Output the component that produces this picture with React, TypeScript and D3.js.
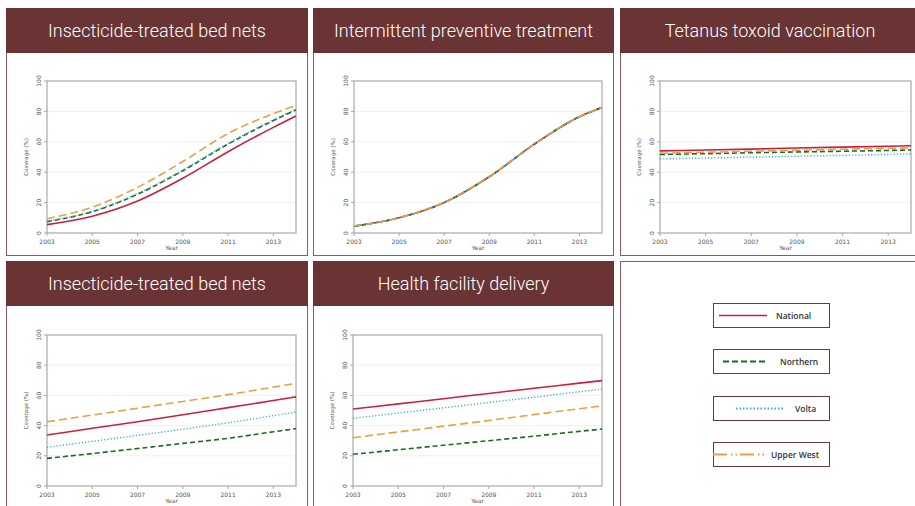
import React from "react";
import * as d3 from "d3";

const years = [2003, 2005, 2007, 2009, 2011, 2013, 2014];
const yTicks = [0, 20, 40, 60, 80, 100];
const xTicks = [2003, 2005, 2007, 2009, 2011, 2013];

const seriesNames = ["National", "Northern", "Volta", "Upper West"];

// Panel 1: Insecticide-treated bed nets (top)
const itnTopNational = [5.5, 11, 21, 36, 53.5, 69.5, 77];
const itnTopNorthern = [7.5, 14, 25.5, 41, 58.5, 74, 81];
const itnTopVolta = [7.8, 14.3, 26, 41.5, 59, 74.5, 81.5];
const itnTopUpperWest = [9.4, 17, 30, 47, 65.5, 78.5, 84];

// Panel 2: Intermittent preventive treatment
const iptNational = [4.5, 10, 20, 37, 58.5, 76.5, 82.5];
const iptNorthern = [4.5, 10, 20, 37, 58.5, 76.5, 82.5];
const iptVolta = [4.5, 10, 20, 37, 58.5, 76.5, 82.5];
const iptUpperWest = [4.6, 10.1, 20.1, 37.1, 58.6, 76.6, 82.6];

// Panel 3: Tetanus toxoid vaccination
const ttNational = [54, 54.6, 55.2, 55.9, 56.5, 57.1, 57.4];
const ttNorthern = [51.7, 52.2, 52.8, 53.3, 53.8, 54.3, 54.6];
const ttVolta = [48.7, 49.3, 49.9, 50.5, 51.1, 51.7, 52];
const ttUpperWest = [52.5, 53.1, 53.8, 54.4, 55.1, 55.7, 56];

// Panel 4: Insecticide-treated bed nets (bottom)
const itnBotNational = [33.8, 38.2, 42.6, 47.2, 51.9, 56.6, 59];
const itnBotNorthern = [18.3, 21.5, 24.8, 28.2, 31.6, 35.9, 38];
const itnBotVolta = [25.6, 29.6, 33.5, 37.6, 41.9, 46.6, 49];
const itnBotUpperWest = [42.5, 47, 51.5, 56, 60.5, 65.5, 68];

// Panel 5: Health facility delivery
const hfdNational = [51, 54.4, 57.8, 61.3, 64.7, 68.1, 69.8];
const hfdNorthern = [21, 24, 27, 30, 33, 36.2, 37.7];
const hfdVolta = [44.8, 48.3, 51.8, 55.3, 58.8, 62.4, 64.2];
const hfdUpperWest = [32, 35.8, 39.6, 43.4, 47.3, 51.2, 53];

const panelTitles = [
  "Insecticide-treated bed nets",
  "Intermittent preventive treatment",
  "Tetanus toxoid vaccination",
  "Insecticide-treated bed nets",
  "Health facility delivery",
];

const panelData = [
  [itnTopNational, itnTopNorthern, itnTopVolta, itnTopUpperWest],
  [iptNational, iptNorthern, iptVolta, iptUpperWest],
  [ttNational, ttNorthern, ttVolta, ttUpperWest],
  [itnBotNational, itnBotNorthern, itnBotVolta, itnBotUpperWest],
  [hfdNational, hfdNorthern, hfdVolta, hfdUpperWest],
];

const styles = [
  { color: "#c8203f", dash: "none", width: 1.6 },
  { color: "#1d6b22", dash: "5,3", width: 1.6 },
  { color: "#3aa9d6", dash: "1.2,2", width: 1.4 },
  { color: "#e9a043", dash: "8,4", width: 1.6 },
];

const HEADER = "#6a3434";
const BORDER = "#8c5a5a";

type Panel = { x: number; y: number; w: number; h: number; px0: number; px1: number; py0: number; py1: number };

const panels: Panel[] = [
  { x: 6, y: 8, w: 302, h: 248, px0: 47, px1: 296, py0: 233, py1: 81 },
  { x: 313, y: 8, w: 301, h: 248, px0: 354, px1: 602, py0: 233, py1: 81 },
  { x: 620, y: 8, w: 300, h: 248, px0: 660, px1: 911, py0: 233, py1: 81 },
  { x: 6, y: 261, w: 302, h: 250, px0: 47, px1: 296, py0: 486, py1: 335 },
  { x: 313, y: 261, w: 301, h: 250, px0: 353, px1: 602, py0: 486, py1: 335 },
];

function ChartPanel({ p, title, data }: { p: Panel; title: string; data: number[][] }) {
  const x = d3.scaleLinear().domain([2003, 2014]).range([p.px0, p.px1]);
  const y = d3.scaleLinear().domain([0, 100]).range([p.py0, p.py1]);
  const line = d3
    .line<number>()
    .x((_, i) => x(years[i]))
    .y((d) => y(d))
    .curve(d3.curveMonotoneX);
  const headH = 45;
  return (
    <g>
      <rect x={p.x + 0.5} y={p.y + 0.5} width={p.w - 1} height={p.h - 1} fill="#fff" stroke={BORDER} strokeWidth={1} />
      <rect x={p.x} y={p.y} width={p.w} height={headH} fill={HEADER} />
      <text
        x={p.x + p.w / 2}
        y={p.y + 29}
        textAnchor="middle"
        fill="#fff"
        fontFamily="Roboto, sans-serif"
        fontWeight={300}
        fontSize={18}
      >
        {title}
      </text>
      {yTicks.slice(1, 5).map((t) => (
        <line key={"g" + t} x1={p.px0} x2={p.px1} y1={y(t)} y2={y(t)} stroke="#ececec" strokeWidth={0.8} />
      ))}
      <rect x={p.px0} y={p.py1} width={p.px1 - p.px0} height={p.py0 - p.py1} fill="none" stroke="#a8a8a8" strokeWidth={1.2} />
      {yTicks.map((t) => (
        <g key={"y" + t}>
          <line x1={p.px0 - 3} x2={p.px0} y1={y(t)} y2={y(t)} stroke="#a8a8a8" />
          <text
            transform={`translate(${p.px0 - 6},${y(t)}) rotate(-90)`}
            textAnchor="middle"
            fontFamily="'DejaVu Sans', sans-serif"
            fontSize={6}
            fill="#555"
          >
            {t}
          </text>
        </g>
      ))}
      {xTicks.map((t) => (
        <g key={"x" + t}>
          <line x1={x(t)} x2={x(t)} y1={p.py0} y2={p.py0 + 3} stroke="#a8a8a8" />
          <text x={x(t)} y={p.py0 + 11} textAnchor="middle" fontFamily="'DejaVu Sans', sans-serif" fontSize={6} fill="#555">
            {t}
          </text>
        </g>
      ))}
      <text
        transform={`translate(${p.px0 - 19},${(p.py0 + p.py1) / 2}) rotate(-90)`}
        textAnchor="middle"
        fontFamily="'DejaVu Sans', sans-serif"
        fontSize={5.5}
        fill="#555"
      >
        Coverage (%)
      </text>
      <text
        x={(p.px0 + p.px1) / 2}
        y={p.py0 + 17}
        textAnchor="middle"
        fontFamily="'DejaVu Sans', sans-serif"
        fontSize={6}
        fill="#555"
      >
        Year
      </text>
      {data.map((s, i) => (
        <path
          key={i}
          d={line(s) || ""}
          fill="none"
          stroke={styles[i].color}
          strokeWidth={styles[i].width}
          strokeDasharray={styles[i].dash}
        />
      ))}
    </g>
  );
}

const legendBoxes = [
  { y: 303, x0: 719, x1: 767, tx: 776 },
  { y: 349, x0: 723, x1: 767, tx: 780 },
  { y: 396, x0: 736, x1: 785, tx: 795 },
  { y: 442, x0: 713, x1: 767, tx: 771 },
];

export default function App() {
  return (
    <svg
      width={915}
      height={506}
      style={{ position: "absolute", left: 0, top: 0, display: "block", background: "#fff" }}
    >
      {panels.map((p, i) => (
        <ChartPanel key={i} p={p} title={panelTitles[i]} data={panelData[i]} />
      ))}
      <rect x={620.5} y={261.5} width={300} height={250} fill="#fff" stroke={BORDER} strokeWidth={1} />
      {seriesNames.map((n, i) => {
        const b = legendBoxes[i];
        return (
          <g key={n}>
            <rect x={713.5} y={b.y + 0.5} width={116} height={24} fill="#fff" stroke="#6a3a3a" strokeWidth={1} />
            <line
              x1={b.x0}
              x2={b.x1}
              y1={b.y + 12.5}
              y2={b.y + 12.5}
              stroke={styles[i].color}
              strokeWidth={i === 0 ? 1.4 : 1.8}
              strokeDasharray={i === 2 ? "1.5,2" : i === 1 ? "6,3" : i === 3 ? "14,4,1.5,3,1.5,3" : "none"}
            />
            <text x={b.tx} y={b.y + 16} fontFamily="'Open Sans', sans-serif" fontWeight={600} fontSize={8.5} fill="#333">
              {n}
            </text>
          </g>
        );
      })}
    </svg>
  );
}
